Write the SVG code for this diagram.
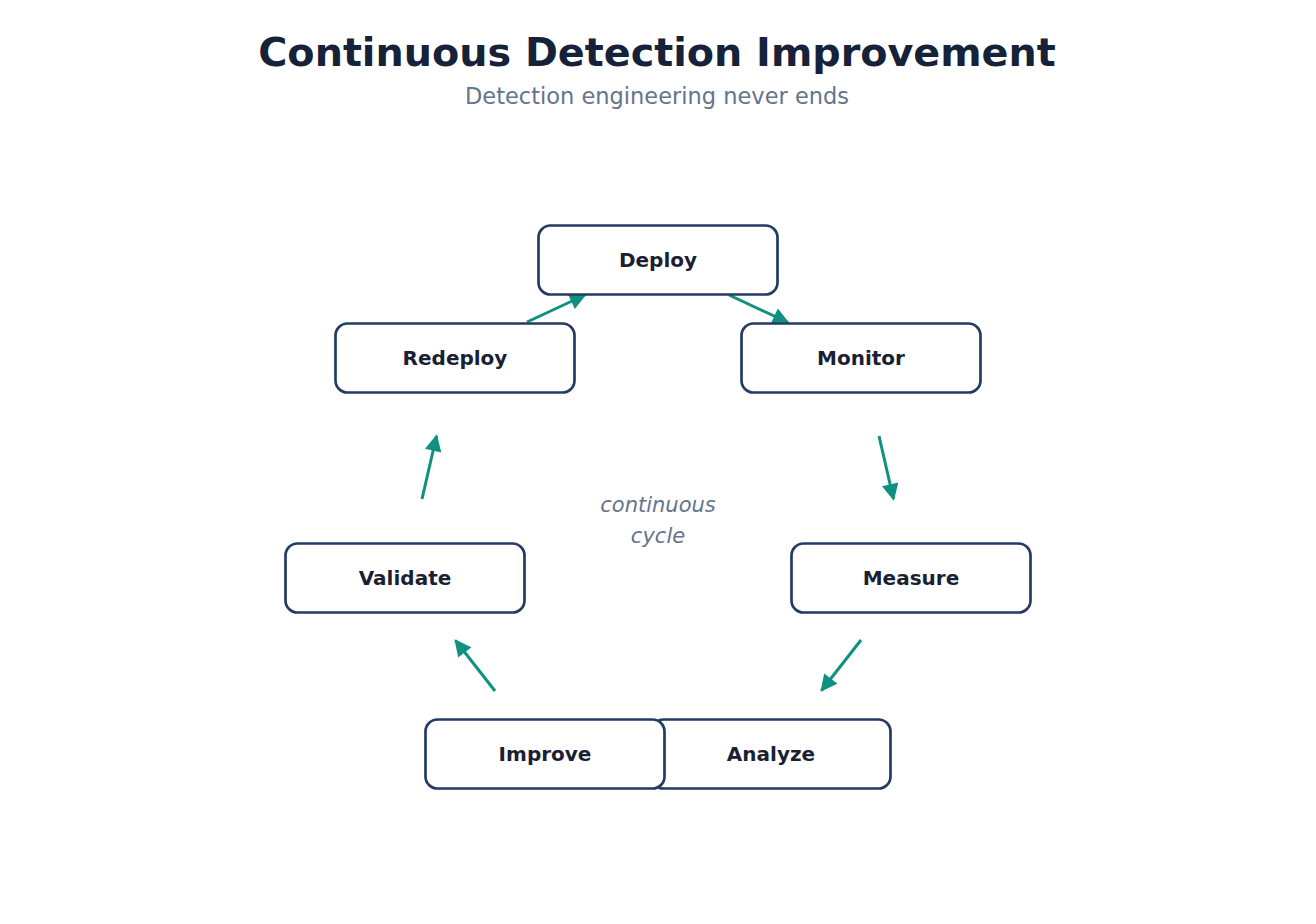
<svg xmlns="http://www.w3.org/2000/svg" width="1316" height="924" viewBox="0 0 1316 924">
<defs>
<style>
.title{font-family:"DejaVu Sans",sans-serif;font-weight:bold;font-size:39.7px;fill:#16213a;text-anchor:middle}
.sub{font-family:"DejaVu Sans",sans-serif;font-size:22.5px;fill:#64748b;text-anchor:middle}
.box{fill:#ffffff;stroke:#243b63;stroke-width:2.7}
.lbl{font-family:"DejaVu Sans",sans-serif;font-weight:bold;font-size:20px;fill:#1a1f33;text-anchor:middle}
.mid{font-family:"DejaVu Sans",sans-serif;font-style:italic;font-size:21px;fill:#64748b;text-anchor:middle}
.edge{stroke:#0f9080;stroke-width:3;fill:none;marker-end:url(#ah)}
</style>
<marker id="ah" viewBox="0 0 10 10" refX="9" refY="5" markerWidth="6.2" markerHeight="5.6" orient="auto" markerUnits="strokeWidth">
<path d="M0,0 L10,5 L0,10 Z" fill="#0f9080"/>
</marker>
</defs>
<rect width="1316" height="924" fill="#ffffff"/>
<text class="title" x="657" y="66">Continuous Detection Improvement</text>
<text class="sub" x="657" y="104">Detection engineering never ends</text>
<g id="connectors">
<line class="edge" x1="527" y1="322" x2="585" y2="295"/>
<line class="edge" x1="729" y1="295" x2="788" y2="322.5"/>
<line class="edge" x1="879" y1="436" x2="893.5" y2="499"/>
<line class="edge" x1="861" y1="640" x2="821.5" y2="690.5"/>
<line class="edge" x1="495" y1="691" x2="455.5" y2="640.5"/>
<line class="edge" x1="422" y1="499" x2="436.5" y2="436"/>
</g>
<g id="node-deploy"><rect class="box" x="538.5" y="225.5" width="239" height="69" rx="12"/><text class="lbl" x="658" y="267">Deploy</text></g>
<g id="node-monitor"><rect class="box" x="741.5" y="323.5" width="239" height="69" rx="12"/><text class="lbl" x="861" y="365">Monitor</text></g>
<g id="node-measure"><rect class="box" x="791.5" y="543.5" width="239" height="69" rx="12"/><text class="lbl" x="911" y="585">Measure</text></g>
<g id="node-analyze"><rect class="box" x="651.5" y="719.5" width="239" height="69" rx="12"/><text class="lbl" x="771" y="761">Analyze</text></g>
<g id="node-improve"><rect class="box" x="425.5" y="719.5" width="239" height="69" rx="12"/><text class="lbl" x="545" y="761">Improve</text></g>
<g id="node-validate"><rect class="box" x="285.5" y="543.5" width="239" height="69" rx="12"/><text class="lbl" x="405" y="585">Validate</text></g>
<g id="node-redeploy"><rect class="box" x="335.5" y="323.5" width="239" height="69" rx="12"/><text class="lbl" x="455" y="365">Redeploy</text></g>
<text class="mid" x="658" y="512">continuous</text>
<text class="mid" x="658" y="543">cycle</text>
</svg>
